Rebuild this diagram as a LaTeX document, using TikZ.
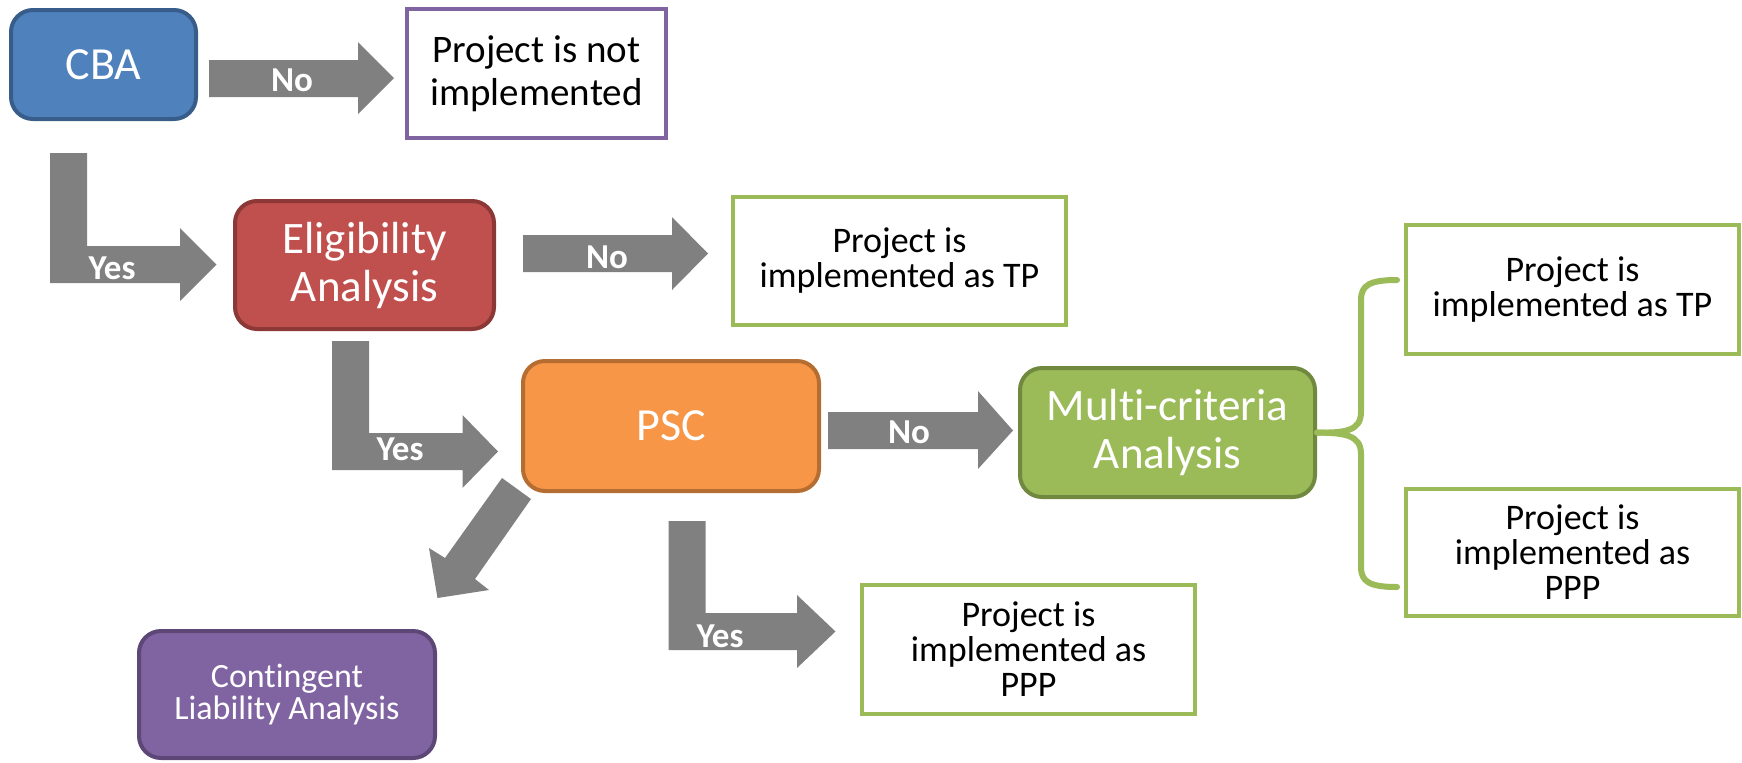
\documentclass[tikz,border=0pt]{standalone}
\usepackage{fontspec}
\setmainfont{Carlito}[Ligatures=NoCommon]
\definecolor{cbafill}{HTML}{4F81BD}
\definecolor{cbaline}{HTML}{385D8A}
\definecolor{eligfill}{HTML}{C0504D}
\definecolor{eligline}{HTML}{8C3836}
\definecolor{pscfill}{HTML}{F79646}
\definecolor{pscline}{HTML}{B66D31}
\definecolor{mcafill}{HTML}{9BBB59}
\definecolor{mcaline}{HTML}{71893F}
\definecolor{clafill}{HTML}{8064A2}
\definecolor{claline}{HTML}{5C4776}
\definecolor{boxgreen}{HTML}{9BBB59}
\definecolor{boxpurple}{HTML}{8064A2}
\definecolor{arrowgray}{HTML}{808080}
\begin{document}
\begin{tikzpicture}[x=0.5pt,y=-0.5pt,
  box/.style={rectangle, line width=2pt, align=center, inner sep=2pt},
  stage/.style={box, rounded corners=11pt, text=white,
                font=\fontsize{22.5}{24}\selectfont},
  result/.style={box, fill=white, draw=boxgreen,
                 font=\fontsize{18}{17.5}\selectfont},
  blockarrow/.style={fill=arrowgray, draw=none},
  arrowlabel/.style={text=white, inner sep=0pt,
                     font=\bfseries\fontsize{17.5}{18}\selectfont},
  brace/.style={draw=boxgreen, line width=3pt, line cap=round, line join=round},
]
\useasboundingbox (0,0) rectangle (1742,762);

% decision stages
\node[stage, fill=cbafill, draw=cbaline, minimum width=92.5pt, minimum height=54.5pt,
      font=\fontsize{23}{24}\selectfont] (cba) at (103.5,64.5) {CBA};
\node[stage, fill=eligfill, draw=eligline, minimum width=129.5pt, minimum height=64pt]
      (elig) at (364.5,265) {Eligibility\\Analysis};
\node[stage, fill=pscfill, draw=pscline, minimum width=148pt, minimum height=65pt,
      font=\fontsize{23}{24}\selectfont] (psc) at (671,426) {PSC};
\node[stage, fill=mcafill, draw=mcaline, minimum width=147.5pt, minimum height=64.5pt]
      (mca) at (1167.5,432.5) {Multi-criteria\\Analysis};
\node[stage, fill=clafill, draw=claline, minimum width=148pt, minimum height=63.5pt,
      font=\fontsize{17}{16}\selectfont] (cla) at (287,694.5) {Contingent\\Liability Analysis};

% outcomes
\node[box, fill=white, draw=boxpurple, minimum width=129.5pt, minimum height=64.5pt,
      font=\fontsize{19.5}{21.5}\selectfont] (notimpl) at (536.5,73.5) {Project is not\\implemented};
\node[result, minimum width=166.5pt, minimum height=64pt]
      (tpa) at (899.5,261) {Project is\\implemented as TP};
\node[result, minimum width=166.5pt, minimum height=64.5pt]
      (tpb) at (1572.5,289.5) {Project is\\implemented as TP};
\node[result, minimum width=166.5pt, minimum height=63.5pt]
      (pppb) at (1572.5,552.5) {Project is\\implemented as\\PPP};
\node[result, minimum width=166.5pt, minimum height=64.5pt]
      (pppa) at (1028.5,649.5) {Project is\\implemented as\\PPP};

% CBA -> not implemented
\fill[blockarrow] (209,60) -- (358,60) -- (358,42) -- (394,78) -- (358,114)
  -- (358,97) -- (209,97) -- cycle;
\node[arrowlabel] (no1) at (292,80) {No};

% CBA -> Eligibility (bent)
\fill[blockarrow] (50,153) -- (87,153) -- (87,246) -- (180,246) -- (180,228)
  -- (216.5,264.5) -- (180,301) -- (180,283) -- (50,283) -- cycle;
\node[arrowlabel] (yes1) at (112,268) {Yes};

% Eligibility -> TP
\fill[blockarrow] (523,235) -- (672,235) -- (672,217) -- (708,253.5) -- (672,290)
  -- (672,272) -- (523,272) -- cycle;
\node[arrowlabel] (no2) at (607,257) {No};

% Eligibility -> PSC (bent)
\fill[blockarrow] (332,341) -- (369,341) -- (369,433) -- (462.5,433) -- (462.5,415)
  -- (498,451.5) -- (462.5,488) -- (462.5,470) -- (332,470) -- cycle;
\node[arrowlabel] (yes2) at (400,449) {Yes};

% PSC -> Multi-criteria
\fill[blockarrow] (828,412) -- (978,412) -- (978,391) -- (1013,430.5) -- (978,469)
  -- (978,449) -- (828,449) -- cycle;
\node[arrowlabel] (no3) at (909,432) {No};

% PSC -> Contingent Liability (diagonal)
\fill[blockarrow] (502,478) -- (531,499) -- (475,579) -- (489,590) -- (437.5,598)
  -- (429,548) -- (445,558) -- cycle;

% PSC -> PPP (bent)
\fill[blockarrow] (668.5,521) -- (705.5,521) -- (705.5,613) -- (797,613) -- (797,595)
  -- (835.5,631.5) -- (797,668) -- (797,650) -- (668.5,650) -- cycle;
\node[arrowlabel] (yes3) at (720,636) {Yes};

% Multi-criteria -> both outcomes (brace)
\draw[brace] (mca.east) .. controls (1345,433) and (1361,431) .. (1361,412)
  -- (1361,300) .. controls (1361,285) and (1370,280) .. (1397,280);
\draw[brace] (mca.east) .. controls (1345,433) and (1361,435) .. (1361,454)
  -- (1361,567) .. controls (1361,582) and (1370,587) .. (1397,587);
\end{tikzpicture}
\end{document}
